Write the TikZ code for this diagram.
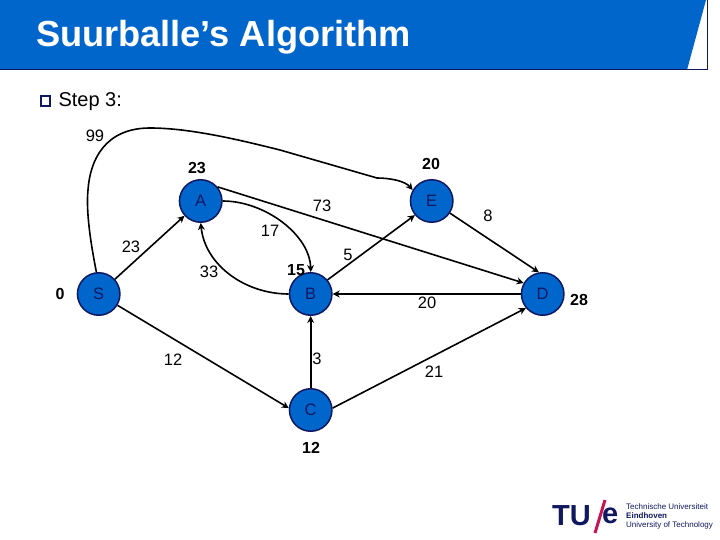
\documentclass[tikz,border=0pt]{standalone}
\usepackage{fontspec}
\setmainfont{Liberation Sans}
\usepackage{xcolor}
\usetikzlibrary{arrows.meta}
\definecolor{tueblue}{RGB}{0, 102, 204}
\definecolor{darknavy}{RGB}{16, 24, 96}
\definecolor{tuered}{RGB}{200, 20, 80}
\tikzstyle{vertex} = [circle, draw=darknavy, fill=tueblue, line width=1.5pt, minimum size=42.5pt, inner sep=0pt, text=darknavy, font=\fontsize{16.5}{18}\selectfont]
\tikzstyle{arrow} = [-{Stealth[length=7pt,width=7pt]}, line width=1.6pt]
\tikzstyle{dist} = [font=\fontsize{16}{18}\selectfont\bfseries]
\tikzstyle{cost} = [font=\fontsize{16.5}{18}\selectfont]
\begin{document}
\begin{tikzpicture}[x=1pt, y=-1pt]
    \useasboundingbox (0,0) rectangle (720,540);
    % Title band
    \fill[white] (0,0) rectangle (720,540);
    \fill[tueblue] (0,0) -- (706,0) -- (687,70) -- (0,70) -- cycle;
    \draw[darknavy, line width=1pt] (0,70) -- (707.7,70) -- (707.7,0);
    \node[anchor=west, text=white, font=\fontsize{36.2}{40}\selectfont\bfseries] (title) at (32.5,37) {Suurballe’s Algorithm};

    % Bullet
    \node[draw=darknavy, line width=2pt, minimum size=9.5pt, inner sep=0pt] (bullet) at (45.5,101) {};
    \node[anchor=west, font=\fontsize{20}{24}\selectfont] (steptext) at (55,102) {Step 3:};

    % Vertices
    \node[vertex] (A) at (200.7,201) {A};
    \node[vertex] (S) at (98.7,294) {S};
    \node[vertex] (B) at (310.7,294) {B};
    \node[vertex] (E) at (431.7,201) {E};
    \node[vertex] (D) at (542.7,294) {D};
    \node[vertex] (C) at (310.7,410) {C};

    % Arrows
    \draw[arrow] (S) -- (A);
    \draw[arrow] (S) -- (C.175);
    \draw[arrow] (S.96) .. controls (90,240) and (86,210) .. (88,190) .. controls (90,160) and (105,128) .. (150,128) .. controls (190,128) and (240,140) .. (280,150) -- (377,178) .. controls (390,178) and (405,181) .. (E.150);
    \draw[arrow] (A.0) .. controls (265,201) and (310,235) .. (B.90);
    \draw[arrow] (B.180) .. controls (245,294) and (205,265) .. (A.-90);
    \draw[arrow] (A.40) -- (D.150);
    \draw[arrow] (B.40) -- (E.220);
    \draw[arrow] (E) -- (D.100);
    \draw[arrow] (D) -- (B);
    \draw[arrow] (C) -- (B);
    \draw[arrow] (C.5) -- (D.220);

    % Edge costs
    \node[cost] (c99) at (95,136) {99};
    \node[cost] (c23) at (131,247) {23};
    \node[cost] (c33) at (209,272) {33};
    \node[cost] (c17) at (270,231) {17};
    \node[cost] (c73) at (322,206) {73};
    \node[cost] (c5) at (348,255) {5};
    \node[cost] (c8) at (488,216) {8};
    \node[cost] (c20) at (427,303) {20};
    \node[cost] (c12) at (173,360) {12};
    \node[cost] (c3) at (317,359) {3};
    \node[cost] (c21) at (434,372) {21};

    % Distances
    \node[dist] (dA) at (197,168) {23};
    \node[dist] (dE) at (431,164) {20};
    \node[dist] (dB) at (296,270) {15};
    \node[dist] (dS) at (60,294) {0};
    \node[dist] (dD) at (579,300) {28};
    \node[dist] (dC) at (311,448) {12};

    % Logo
    \node[text=darknavy, font=\fontsize{29}{30}\selectfont\bfseries, anchor=west, inner sep=0pt] (logoTU) at (552,516) {TU};
    \node[text=darknavy, font=\fontsize{29}{30}\selectfont\bfseries, anchor=west, inner sep=0pt] (logoe) at (602,516) {e};
    \draw[tuered, line width=3pt] (605,500) -- (595,533);
    \node[anchor=west, align=left, inner sep=0pt, text=darknavy, font=\fontsize{8}{8.7}\selectfont] (logotext) at (626,516.5) {Technische Universiteit\\\textbf{Eindhoven}\\University of Technology};
\end{tikzpicture}
\end{document}
